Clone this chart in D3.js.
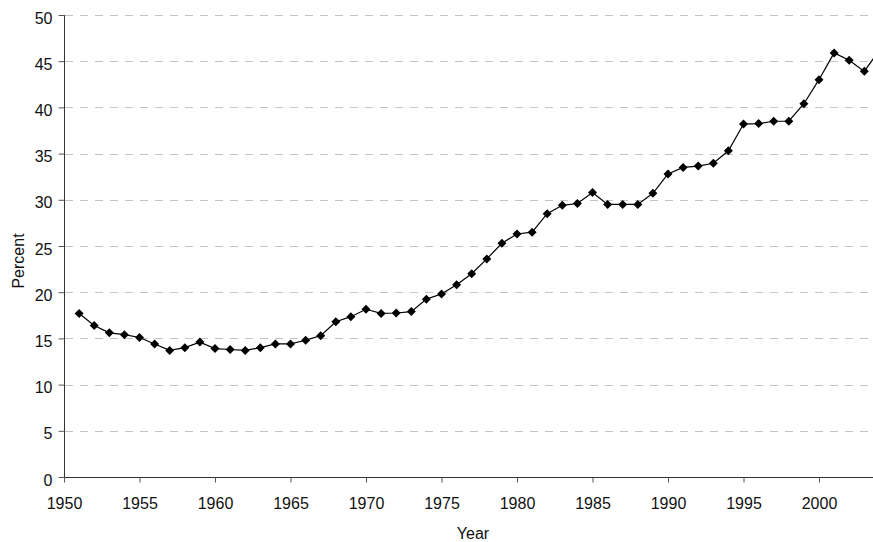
<!DOCTYPE html>
<html>
<head>
<meta charset="utf-8">
<script src="https://cdn.jsdelivr.net/npm/d3@7"></script>
<style>
    body { margin: 0; background: #fff; }
    svg { display: block; }
    .grid line { stroke: #c4c4c4; stroke-dasharray: 8 7; }
</style>
</head>
<body>
<svg id="chart" width="873" height="542"></svg>
<script>
const years = d3.range(1951, 2005);
const percent = [
    17.7, 16.4, 15.6, 15.4, 15.1, 14.4, 13.7, 14.0, 14.6, 13.9,
    13.8, 13.7, 14.0, 14.4, 14.4, 14.8, 15.3, 16.8, 17.35, 18.15,
    17.7, 17.75, 17.9, 19.25, 19.8, 20.8, 22.0, 23.6, 25.3, 26.3,
    26.5, 28.5, 29.4, 29.6, 30.8, 29.5, 29.5, 29.5, 30.7, 32.8,
    33.5, 33.65, 33.95, 35.3, 38.2, 38.25, 38.5, 38.5, 40.4, 43.0,
    45.9, 45.1, 43.9, 46.2
];
const xTicks = [1950, 1955, 1960, 1965, 1970, 1975, 1980, 1985, 1990, 1995, 2000];
const yTicks = [0, 5, 10, 15, 20, 25, 30, 35, 40, 45, 50];

const FONT = '"Liberation Sans", Arial, sans-serif';

function translate(x, y) {
    return `translate(${x}, ${y})`;
}

const plotLeft = 64, plotRight = 873, plotTop = 15, plotBottom = 477;
const svg = d3.select('#chart');

const xScale = d3.scaleLinear()
    .domain([1950, 1950 + (plotRight - plotLeft) / 15.1])
    .range([plotLeft, plotRight]);
const yScale = d3.scaleLinear()
    .domain([0, 50])
    .range([plotBottom, plotTop]);

// dashed gridlines
svg.append('g')
    .attr('class', 'grid')
    .selectAll('line')
    .data(yTicks.filter(d => d > 0))
    .enter().append('line')
    .attr('x1', plotLeft + 1)
    .attr('x2', plotRight)
    .attr('y1', d => Math.round(yScale(d)) + 0.5)
    .attr('y2', d => Math.round(yScale(d)) + 0.5);

svg.append('g')
    .attr('transform', translate(plotLeft + 0.5, 0.5))
    .attr('font-family', FONT)
    .call(d3.axisLeft(yScale.copy().range([plotBottom - 0.5, plotTop - 0.5]))
        .tickValues(yTicks)
        .tickSize(6)
        .tickPadding(6))
    .call(g => g.attr('font-size', 16).attr('font-family', FONT))
    .call(g => g.select('.domain').attr('stroke', '#333').attr('d', `M0,${plotTop - 0.5}V${plotBottom - 0.5}`))
    .call(g => g.selectAll('.tick line').attr('stroke', '#555'))
    .call(g => g.selectAll('.tick text').attr('y', 3).attr('fill', '#111'));

svg.append('g')
    .attr('transform', translate(0, plotBottom + 0.5))
    .call(d3.axisBottom(xScale)
        .tickValues(xTicks)
        .tickSize(5)
        .tickPadding(15)
        .tickFormat(d3.format('d')))
    .call(g => g.attr('font-size', 16).attr('font-family', FONT))
    .call(g => g.select('.domain').attr('stroke', '#333').attr('d', `M${plotLeft},0H${plotRight}`))
    .call(g => g.selectAll('.tick line').attr('stroke', '#555'))
    .call(g => g.selectAll('.tick text').attr('fill', '#111'));

svg.append('clipPath')
    .attr('id', 'plot-clip')
    .append('rect')
    .attr('x', plotLeft)
    .attr('y', 0)
    .attr('width', plotRight - plotLeft)
    .attr('height', plotBottom);

const data = years.map((y, i) => ({ year: y, value: percent[i] }));
const plot = svg.append('g').attr('clip-path', 'url(#plot-clip)');

plot.append('path')
    .datum(data)
    .attr('fill', 'none')
    .attr('stroke', '#000')
    .attr('stroke-width', 1.2)
    .attr('d', d3.line().x(d => xScale(d.year)).y(d => yScale(d.value)));

plot.selectAll('.marker')
    .data(data)
    .enter().append('path')
    .attr('class', 'marker')
    .attr('transform', d => translate(xScale(d.year), yScale(d.value)))
    .attr('d', 'M0,-4.5L4.5,0L0,4.5L-4.5,0Z')
    .attr('fill', '#000');

svg.append('text')
    .attr('x', 473)
    .attr('y', 539)
    .attr('text-anchor', 'middle')
    .attr('font-family', FONT)
    .attr('font-size', 16)
    .attr('fill', '#111')
    .text('Year');

svg.append('text')
    .attr('transform', translate(24, 261) + ' rotate(-90)')
    .attr('text-anchor', 'middle')
    .attr('font-family', FONT)
    .attr('font-size', 16)
    .attr('fill', '#111')
    .text('Percent');
</script>
</body>
</html>
